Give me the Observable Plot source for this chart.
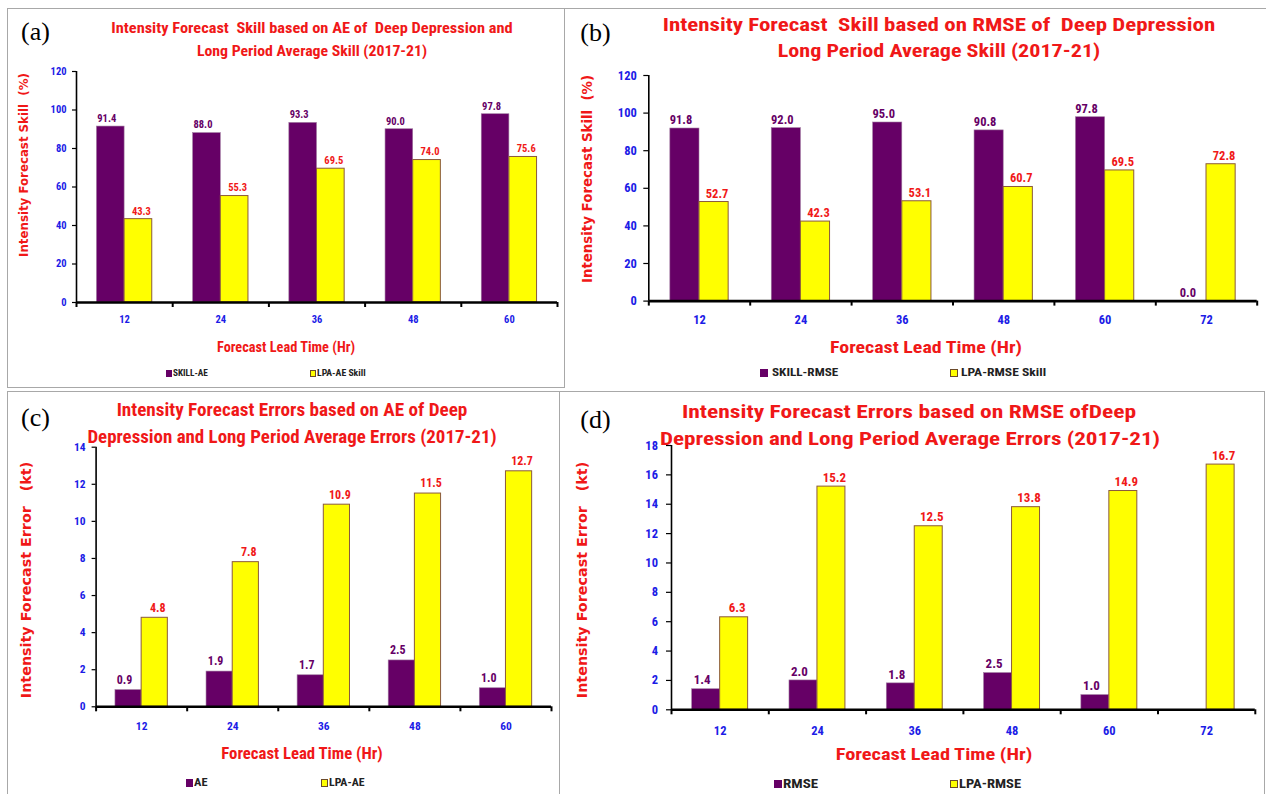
<!DOCTYPE html>
<html><head><meta charset="utf-8">
<script src="https://cdn.jsdelivr.net/npm/d3@7"></script>
<script src="https://cdn.jsdelivr.net/npm/@observablehq/plot@0.6"></script>
<style>
html,body{margin:0;padding:0;background:#fff;}
#page{position:relative;width:1266px;height:794px;overflow:hidden;background:#fff;}
.t{position:absolute;white-space:pre;line-height:1;}
.ln{position:absolute;border-color:#a8a8a8;border-style:solid;border-width:0;box-sizing:border-box;}
.sq{position:absolute;box-sizing:border-box;}
</style></head><body><div id="page"></div>
<script>
// ---------- data ----------
const leadsA = [12, 24, 36, 48, 60];
const skillAE = [91.4, 88.0, 93.3, 90.0, 97.8];
const lpaAESkill = [43.3, 55.3, 69.5, 74.0, 75.6];

const leadsB = [12, 24, 36, 48, 60, 72];
const skillRMSE = [91.8, 92.0, 95.0, 90.8, 97.8, 0.0];
const lpaRMSESkill = [52.7, 42.3, 53.1, 60.7, 69.5, 72.8];

const leadsC = [12, 24, 36, 48, 60];
const errAE = [0.9, 1.9, 1.7, 2.5, 1.0];
const lpaAE = [4.8, 7.8, 10.9, 11.5, 12.7];

const leadsD = [12, 24, 36, 48, 60, 72];
const errRMSE = [1.4, 2.0, 1.8, 2.5, 1.0, null];
const lpaRMSE = [6.3, 15.2, 12.5, 13.8, 14.9, 16.7];

const skillTicks = [0, 20, 40, 60, 80, 100, 120];
const errTicksC = [0, 2, 4, 6, 8, 10, 12, 14];
const errTicksD = [0, 2, 4, 6, 8, 10, 12, 14, 16, 18];

// ---------- styles ----------
const PURPLE = "#660066", YELLOW = "#ffff00", RED = "#f01818", BLUE = "#1c1ce6", INK = "#000";
const NARROW = '"Liberation Sans Narrow","Arial Narrow","Roboto Condensed","Liberation Sans",Arial,sans-serif';
const WIDE = '"DejaVu Sans",Verdana,sans-serif';
const SERIF = '"Liberation Serif","Times New Roman",serif';
const STEP = 12, BAR = 3.45;

const page = document.getElementById("page");

function place(text, o) {
  const el = document.createElement("div");
  el.className = "t";
  el.textContent = text;
  el.style.left = o.x + "px";
  el.style.top = o.y + "px";
  el.style.fontSize = o.size + "px";
  el.style.fontFamily = o.font || NARROW;
  el.style.fontWeight = o.weight || "bold";
  el.style.color = o.color || RED;
  page.appendChild(el);
  const s = o.w ? o.w / el.offsetWidth : 1;
  if (o.anchor === "start") {
    el.style.transformOrigin = "0 50%";
    el.style.transform = `translate(0,-50%) scaleX(${s})`;
  } else {
    el.style.transformOrigin = "50% 50%";
    el.style.transform = `translate(-50%,-50%) rotate(${o.rot || 0}deg) scaleX(${s})`;
  }
  return el;
}
function line(l, t, w, h, sides) {
  const d = document.createElement("div");
  d.className = "ln";
  Object.assign(d.style, {left: l + "px", top: t + "px", width: w + "px", height: h + "px"});
  for (const s of sides) d.style["border" + s + "Width"] = "1.5px";
  page.appendChild(d);
}
function square(x, y, w, h, fill, border) {
  const d = document.createElement("div");
  d.className = "sq";
  Object.assign(d.style, {left: x + "px", top: (y - h / 2) + "px", width: w + "px", height: h + "px", background: fill});
  if (border) d.style.border = "1px solid " + border;
  page.appendChild(d);
}

function chart(p) {
  const d1 = p.leads.map((lead, i) => ({lead, v: p.s1[i]})).filter(d => d.v != null);
  const d2 = p.leads.map((lead, i) => ({lead, v: p.s2[i]})).filter(d => d.v != null);
  const x0 = p.leads[0] - STEP / 2, x1 = p.leads[p.leads.length - 1] + STEP / 2;
  const bounds = [x0, ...p.leads.map(l => l + STEP / 2)];
  const yMax = p.yTicks[p.yTicks.length - 1];
  const txt = {fontFamily: NARROW, fontWeight: "bold"};
  const svg = Plot.plot({
    width: p.w, height: p.h,
    marginLeft: p.ml, marginRight: p.mr, marginTop: p.mt, marginBottom: p.mb,
    x: {type: "linear", domain: [x0, x1]},
    y: {domain: [0, yMax]},
    style: {background: "transparent", overflow: "visible"},
    marks: [
      Plot.rectY(d1, {x1: d => d.lead - BAR, x2: d => d.lead, y1: 0, y2: "v", fill: PURPLE, stroke: "#a07aa0", strokeWidth: 0.6}),
      Plot.rectY(d2, {x1: d => d.lead, x2: d => d.lead + BAR, y1: 0, y2: "v", fill: YELLOW, stroke: "#8a5a3c", strokeWidth: 1}),
      Plot.text(d1, {x: d => d.lead - BAR / 2, y: "v", text: d => d.v.toFixed(1), dy: -p.ld, dx: -4, fill: PURPLE, fontSize: p.lf, ...txt}),
      Plot.text(d2, {x: d => d.lead + BAR / 2, y: "v", text: d => d.v.toFixed(1), dy: -p.ld, dx: 3, fill: RED, fontSize: p.lf, ...txt}),
      Plot.axisY({ticks: p.yTicks, tickSize: p.yts, tickPadding: p.ytp, fill: BLUE, stroke: INK, strokeWidth: 1.2, fontSize: p.tf, ...txt, label: null}),
      Plot.ruleX([x0], {stroke: INK, strokeWidth: 1.6}),
      Plot.axisX({ticks: bounds, tickSize: 5, tickFormat: () => "", stroke: INK, strokeWidth: 2, label: null}),
      Plot.axisX({ticks: p.leads, tickSize: 0, tickPadding: p.xtp, tickFormat: d => String(d), fill: BLUE, fontSize: p.tf, ...txt, label: null}),
      Plot.ruleY([0], {stroke: INK, strokeWidth: 2.6})
    ]
  });
  svg.style.position = "absolute";
  svg.style.left = p.left + "px";
  svg.style.top = p.top + "px";
  page.appendChild(svg);
}

// ---------- panel frames ----------
line(7, 8, 558, 380, ["Top", "Right", "Bottom", "Left"]);
line(565, 8, 701, 2, ["Top"]);
line(7, 391, 553, 410, ["Top", "Right", "Left"]);
line(560, 391, 705, 410, ["Top", "Right"]);

// ---------- charts ----------
chart({left: 7, top: 8, w: 558, h: 380, ml: 69, mr: 8, mt: 63, mb: 86,
  leads: leadsA, s1: skillAE, s2: lpaAESkill, yTicks: skillTicks,
  yts: 4, ytp: 6, tf: 10.5, lf: 10.5, ld: 8, xtp: 13.5});
chart({left: 565, top: 8, w: 701, h: 382, ml: 83.3, mr: 9.3, mt: 67, mb: 89.4,
  leads: leadsB, s1: skillRMSE, s2: lpaRMSESkill, yTicks: skillTicks,
  yts: 5, ytp: 7, tf: 12.5, lf: 12.5, ld: 8.5, xtp: 14});
chart({left: 7, top: 391, w: 553, h: 403, ml: 88.6, mr: 9, mt: 55.7, mb: 87.7,
  leads: leadsC, s1: errAE, s2: lpaAE, yTicks: errTicksC,
  yts: 4, ytp: 6.6, tf: 11.5, lf: 12, ld: 10, xtp: 15.5});
chart({left: 560, top: 391, w: 705, h: 403, ml: 111, mr: 10.2, mt: 54, mb: 84.7,
  leads: leadsD, s1: errRMSE, s2: lpaRMSE, yTicks: errTicksD,
  yts: 5, ytp: 8.5, tf: 12.5, lf: 13, ld: 9, xtp: 16});

// ---------- panel letters ----------
place("(a)", {x: 35.5, y: 31.5, size: 26, font: SERIF, weight: "normal", color: "#000"});
place("(b)", {x: 595.5, y: 32.5, size: 26, font: SERIF, weight: "normal", color: "#000"});
place("(c)", {x: 35.5, y: 418, size: 26, font: SERIF, weight: "normal", color: "#000"});
place("(d)", {x: 595.5, y: 420, size: 26, font: SERIF, weight: "normal", color: "#000"});

// ---------- titles ----------
place("Intensity Forecast  Skill based on AE of  Deep Depression and", {x: 312, y: 28.3, size: 14, w: 401});
place("Long Period Average Skill (2017-21)", {x: 312, y: 50.7, size: 14, w: 230});
place("Intensity Forecast  Skill based on RMSE of  Deep Depression", {x: 939, y: 25, size: 18, w: 553});
place("Long Period Average Skill (2017-21)", {x: 938.5, y: 50.7, size: 18, w: 323});
place("Intensity Forecast Errors based on AE of Deep", {x: 291.5, y: 409.3, size: 19, w: 351});
place("Depression and Long Period Average Errors (2017-21)", {x: 291.7, y: 436, size: 19, w: 409});
place("Intensity Forecast Errors based on RMSE ofDeep", {x: 909, y: 410.7, size: 19, w: 454});
place("Depression and Long Period Average Errors (2017-21)", {x: 909.7, y: 438.3, size: 19, w: 500});

// ---------- axis titles ----------
place("Forecast Lead Time (Hr)", {x: 286, y: 346.7, size: 14, w: 138});
place("Forecast Lead Time (Hr)", {x: 926, y: 346.7, size: 17, w: 192});
place("Forecast Lead Time (Hr)", {x: 302, y: 754.3, size: 16, w: 161});
place("Forecast Lead Time (Hr)", {x: 934, y: 754.3, size: 17, w: 196.6});
place("Intensity Forecast Skill  (%)", {x: 23.6, y: 165, size: 12.5, w: 184, rot: -90, font: WIDE});
place("Intensity Forecast Skill  (%)", {x: 586.5, y: 179, size: 14, w: 208, rot: -90, font: WIDE});
place("Intensity Forecast Error   (kt)", {x: 25.5, y: 580, size: 14.5, w: 236, rot: -90, font: WIDE});
place("Intensity Forecast Error   (kt)", {x: 582, y: 579.5, size: 14.5, w: 236, rot: -90, font: WIDE});

// ---------- legends ----------
const LEG = "#222", YB = "#6a4a2a";
square(165.7, 373.3, 6, 7, PURPLE);
place("SKILL-AE", {x: 173, y: 373.3, size: 9.5, w: 35, anchor: "start", color: LEG});
square(310, 373.3, 6, 7, YELLOW, YB);
place("LPA-AE Skill", {x: 317, y: 373.3, size: 9.5, w: 49, anchor: "start", color: LEG});

square(760, 373.3, 8, 8, PURPLE);
place("SKILL-RMSE", {x: 771.5, y: 373.3, size: 11.5, w: 66.5, anchor: "start", color: LEG});
square(950, 373.3, 8, 8, YELLOW, YB);
place("LPA-RMSE Skill", {x: 960.6, y: 373.3, size: 11.5, w: 85, anchor: "start", color: LEG});

square(186, 783.3, 7, 8, PURPLE);
place("AE", {x: 193.5, y: 783.3, size: 11.5, w: 14, anchor: "start", color: LEG});
square(321, 783.3, 7, 8, YELLOW, YB);
place("LPA-AE", {x: 328.5, y: 783.3, size: 11.5, w: 36, anchor: "start", color: LEG});

square(773.8, 784.3, 8, 8, PURPLE);
place("RMSE", {x: 782.5, y: 784.3, size: 12, w: 35, anchor: "start", color: LEG});
square(950, 784.3, 8, 8, YELLOW, YB);
place("LPA-RMSE", {x: 959, y: 784.3, size: 12, w: 62, anchor: "start", color: LEG});
</script></body></html>
